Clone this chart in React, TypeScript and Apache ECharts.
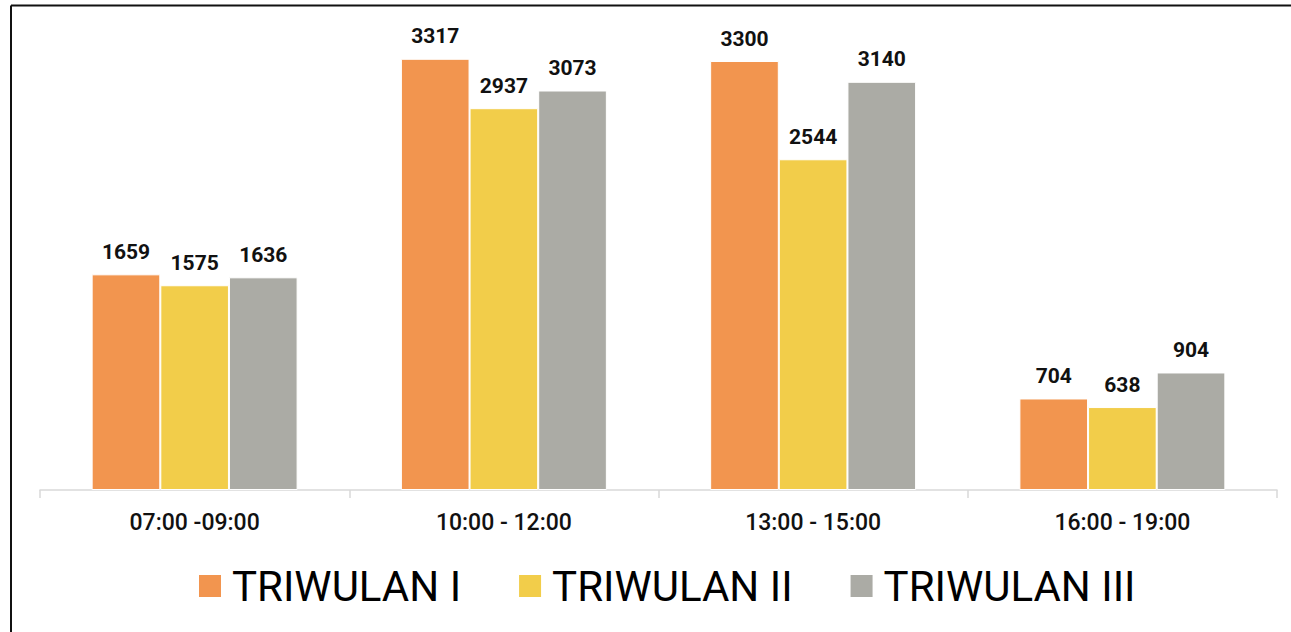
import React, { useEffect, useRef } from "react";
import * as echarts from "echarts";

const categories = ["07:00 -09:00", "10:00 - 12:00", "13:00 - 15:00", "16:00 - 19:00"];
const seriesNames = ["TRIWULAN I", "TRIWULAN II", "TRIWULAN III"];
const triwulan1 = [1659, 3317, 3300, 704];
const triwulan2 = [1575, 2937, 2544, 638];
const triwulan3 = [1636, 3073, 3140, 904];
const colors = ["#F2954F", "#F2CD4A", "#ABABA5"];

export default function App() {
  const ref = useRef<HTMLDivElement>(null);
  useEffect(() => {
    if (!ref.current) return;
    const chart = echarts.init(ref.current, null, { renderer: "svg" });
    const data = [triwulan1, triwulan2, triwulan3];
    const font = "Roboto";
    chart.setOption({
      animation: false,
      backgroundColor: "#ffffff",
      grid: { left: 40, right: 14, top: 35, bottom: 142 },
      legend: {
        left: 197,
        top: 565,
        padding: 0,
        icon: "rect",
        itemWidth: 24,
        itemHeight: 24,
        itemGap: 56,
        textStyle: { fontFamily: font, fontSize: 42, color: "#000", padding: [0, 0, 0, 5] },
        data: seriesNames,
      },
      xAxis: {
        type: "category",
        data: categories,
        axisLine: { show: true, lineStyle: { color: "#d9d9d9", width: 1.5 } },
        axisTick: { show: true, length: 8, lineStyle: { color: "#d9d9d9", width: 1.5 } },
        axisLabel: { fontFamily: font, fontSize: 23, fontWeight: 500, color: "#111", margin: 21 },
      },
      yAxis: {
        type: "value",
        min: 0,
        max: 3500,
        show: false,
        splitLine: { show: false },
      },
      series: seriesNames.map((name, i) => ({
        name,
        type: "bar",
        data: data[i],
        barGap: "0%",
        barCategoryGap: "33.4%",
        itemStyle: { color: colors[i], borderColor: "#ffffff", borderWidth: 1 },
        label: {
          show: true,
          position: "top",
          distance: 12,
          fontFamily: font,
          fontSize: 21,
          fontWeight: "bold",
          color: "#111",
        },
      })),
      graphic: [
        { type: "line", shape: { x1: 11, y1: 5.5, x2: 1291, y2: 5.5 }, style: { stroke: "#111", lineWidth: 2 }, z: 100 },
        { type: "line", shape: { x1: 11, y1: 5.5, x2: 11, y2: 632 }, style: { stroke: "#111", lineWidth: 2 }, z: 100 },
      ],
    });
    return () => chart.dispose();
  }, []);
  return <div ref={ref} style={{ position: "fixed", left: 0, top: 0, width: 1291, height: 632 }} />;
}
